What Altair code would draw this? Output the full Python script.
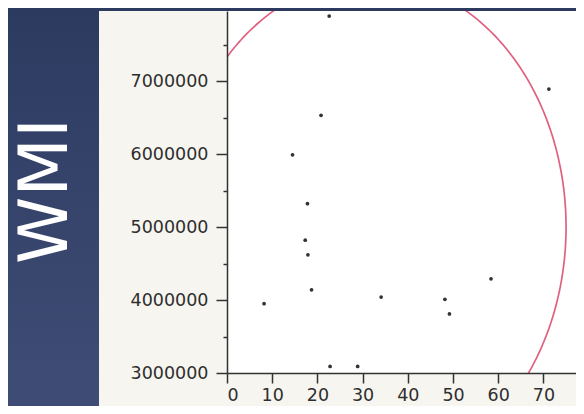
import altair as alt
import pandas as pd
import numpy as np

# ---- data ----
x_vals = [22.6, 71.2, 20.8, 14.5, 17.8, 17.3, 17.9, 18.7, 8.2, 34.1, 48.2, 49.2, 58.4, 22.8, 28.9]
y_vals = [7890000, 6890000, 6530000, 5990000, 5320000, 4820000, 4620000, 4140000,
          3950000, 4040000, 4010000, 3810000, 4290000, 3090000, 3090000]

ellipse_center = [31.6, 5000000]
ellipse_radii = [43.4, 3400000]

x_ticks = [0, 10, 20, 30, 40, 50, 60, 70]
y_ticks = [3000000, 3500000, 4000000, 4500000, 5000000, 5500000, 6000000, 6500000, 7000000, 7500000]
x_domain = [0, 77.2]
y_domain = [3000000, 7960000]
side_title = "WMI"

pts = pd.DataFrame({"x": x_vals, "y": y_vals})
t = np.linspace(0, 2 * np.pi, 361)
ell = pd.DataFrame({
    "x": ellipse_center[0] + ellipse_radii[0] * np.cos(t),
    "y": ellipse_center[1] + ellipse_radii[1] * np.sin(t),
    "i": np.arange(len(t)),
})

W, H = 349, 362
PL, PT, PB = 219, 3, 33

xscale = alt.Scale(domain=x_domain, nice=False, zero=False)
yscale = alt.Scale(domain=y_domain, nice=False, zero=False)
xaxis = alt.Axis(values=x_ticks, title=None, grid=False, tickSize=10, labelPadding=3,
                 labelFontSize=17.5, labelFont="DejaVu Sans", labelColor="#2e2e2e",
                 domainColor="#333333", domainWidth=1.5, tickColor="#333333", tickWidth=1.5,
                 zindex=1)
yaxis = alt.Axis(values=y_ticks, title=None, grid=False, format="d",
                 labelExpr="datum.value % 1000000 === 0 ? datum.label : ''",
                 labelOverlap=False,
                 tickSize={"condition": {"test": "datum.value % 1000000 === 0", "value": 11}, "value": 4},
                 labelPadding=8, labelFontSize=17.5, labelFont="DejaVu Sans", labelColor="#2e2e2e",
                 domainColor="#333333", domainWidth=1.5, tickColor="#333333", tickWidth=1.5,
                 zindex=1)

one = pd.DataFrame({"a": [0]})

bg = alt.Chart(one).mark_rect(
    color=alt.LinearGradient(
        gradient="linear",
        stops=[alt.GradientStop(color="#2d3a60", offset=0),
               alt.GradientStop(color="#3f4d76", offset=1)],
        x1=0, x2=0, y1=0, y2=1)
).encode(x=alt.value(-PL), x2=alt.value(W), y=alt.value(-PT), y2=alt.value(H + PB))

panel = alt.Chart(one).mark_rect(color="#f7f5f0").encode(
    x=alt.value(-128), x2=alt.value(W), y=alt.value(0), y2=alt.value(H + PB))

plotbg = alt.Chart(one).mark_rect(color="#ffffff").encode(
    x=alt.value(0), x2=alt.value(W), y=alt.value(0), y2=alt.value(H))

title = alt.Chart(pd.DataFrame({"t": [side_title]})).mark_text(
    angle=270, fontSize=68, font="DejaVu Sans", color="#ffffff",
    align="center", baseline="middle"
).encode(text="t:N", x=alt.value(-180), y=alt.value(180))

ellipse = alt.Chart(ell).mark_line(color="#e0607f", strokeWidth=1.7, clip=True).encode(
    x=alt.X("x:Q", scale=xscale, axis=xaxis),
    y=alt.Y("y:Q", scale=yscale, axis=yaxis),
    order="i:Q",
)

points = alt.Chart(pts).mark_circle(size=14, color="#333333", opacity=1).encode(
    x=alt.X("x:Q", scale=xscale, axis=xaxis),
    y=alt.Y("y:Q", scale=yscale, axis=yaxis),
)

chart = alt.layer(bg, panel, plotbg, title, ellipse, points).properties(
    width=W, height=H,
    padding={"left": PL, "top": PT, "right": 0, "bottom": PB},
    autosize=alt.AutoSizeParams(type="none"),
    background="#2d3a60",
).configure_view(stroke=None)

chart.save("out.html", embed_options={"renderer": "svg", "actions": False})
